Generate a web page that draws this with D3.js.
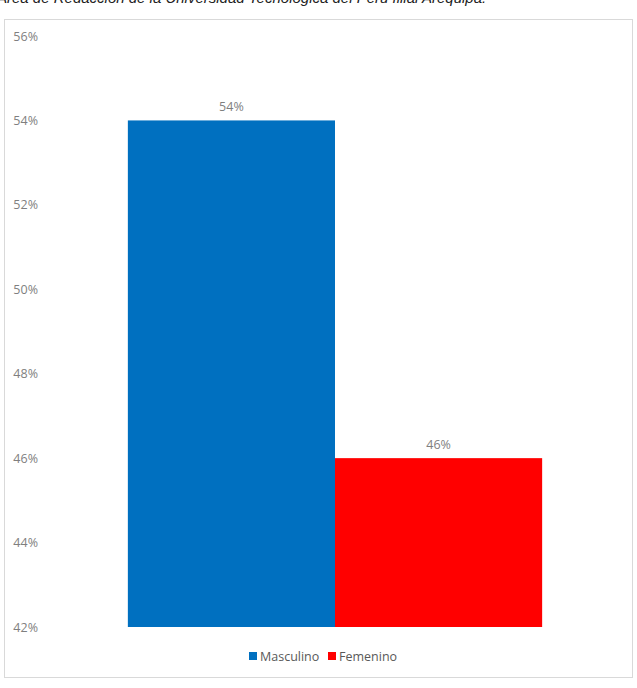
<!DOCTYPE html>
<html>
<head>
<meta charset="utf-8">
<script src="https://d3js.org/d3.v7.min.js"></script>
<style>
  body { margin: 0; background: #fff; }
  svg { display: block; font-family: "Open Sans", "Liberation Sans", sans-serif; }
</style>
</head>
<body>
<div id="chart"></div>
<script>
// data
const series = ["Masculino", "Femenino"];
const values = [0.54, 0.46];
const colors = ["#0070C0", "#FF0000"];
const yTicks = [0.42, 0.44, 0.46, 0.48, 0.50, 0.52, 0.54, 0.56];
const caption = "Área de Redacción de la Universidad Tecnológica del Perú filial Arequipa.";

const W = 637, H = 688;
const plot = {left: 45, right: 625, top: 36, bottom: 627};

const svg = d3.select("#chart").append("svg")
    .attr("width", W).attr("height", H);

// caption, cut off at the top as in the original page
svg.append("text")
    .attr("x", -3).attr("y", 3)
    .style("font-family", "Liberation Sans, Arial, sans-serif")
    .style("font-style", "italic")
    .style("font-size", "15px")
    .attr("fill", "#222")
    .text(caption);

// chart frame
svg.append("rect")
    .attr("x", 4.5).attr("y", 19.5)
    .attr("width", 628).attr("height", 658)
    .attr("fill", "#fff")
    .attr("stroke", "#d9d9d9");

const y = d3.scaleLinear().domain([0.42, 0.56]).range([plot.bottom, plot.top]);

const x = d3.scaleBand().domain(series)
    .range([plot.left, plot.right])
    .paddingInner(0)
    .paddingOuter(0.4);

// y axis labels (no line, no gridlines)
const yAxis = svg.append("g")
    .attr("transform", `translate(${plot.left - 7},0)`)
    .call(d3.axisLeft(y).tickValues(yTicks).tickFormat(d3.format(".0%")).tickSize(0));
yAxis.select(".domain").remove();
yAxis.selectAll("text")
    .attr("x", 0)
    .attr("fill", "#7f7f7f")
    .style("font-size", "12.5px")
    .style("font-family", "Open Sans, sans-serif");

// bars
svg.selectAll(".bar")
    .data(series)
    .enter().append("rect")
    .attr("class", "bar")
    .attr("x", d => x(d))
    .attr("y", (d, i) => y(values[i]))
    .attr("width", x.bandwidth())
    .attr("height", (d, i) => y(0.42) - y(values[i]))
    .attr("fill", (d, i) => colors[i]);

// data labels
svg.selectAll(".lbl")
    .data(series)
    .enter().append("text")
    .attr("class", "lbl")
    .attr("x", d => x(d) + x.bandwidth() / 2)
    .attr("y", (d, i) => y(values[i]) - 9)
    .attr("text-anchor", "middle")
    .attr("fill", "#7f7f7f")
    .style("font-size", "12.5px")
    .text((d, i) => d3.format(".0%")(values[i]));

// legend
const legend = svg.append("g").attr("transform", "translate(249,656)");
const offsets = [0, 79];
series.forEach((s, i) => {
    const g = legend.append("g").attr("transform", `translate(${offsets[i]},0)`);
    g.append("rect").attr("x", 0).attr("y", -4).attr("width", 8).attr("height", 8).attr("fill", colors[i]);
    g.append("text").attr("x", 11).attr("y", 4.5)
        .attr("fill", "#595959")
        .style("font-size", "12.5px")
        .text(s);
});
</script>
</body>
</html>
